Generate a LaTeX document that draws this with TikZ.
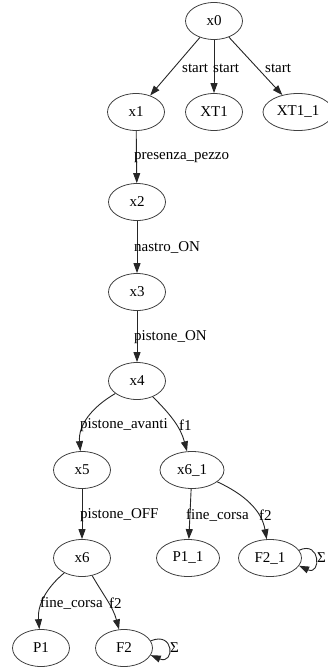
\documentclass[tikz,border=0pt]{standalone}
\usepackage{fontspec}
\setmainfont{Liberation Serif}
\usetikzlibrary{shapes.geometric,arrows.meta}

\begin{document}
\begin{tikzpicture}[x=1pt,y=1pt,
    state/.style={ellipse,draw=black!75,line width=0.8pt,minimum width=57pt,minimum height=37pt,inner sep=1pt,font=\fontsize{15}{17}\selectfont},
    lbl/.style={inner sep=0pt,anchor=west,font=\fontsize{15}{17}\selectfont},
    tr/.style={draw=black!85,line width=0.9pt,-{Triangle[length=10pt,width=7pt]}}]
  \useasboundingbox (0,0) rectangle (327,-669);

  % states
  \node[state] (x0) at (214,-21) {x0};
  \node[state] (x1) at (136,-112) {x1};
  \node[state] (XT1) at (214,-112) {XT1};
  \node[state,minimum width=70pt] (XT1_1) at (298,-112) {XT1\_1};
  \node[state] (x2) at (137,-202) {x2};
  \node[state] (x3) at (137,-292) {x3};
  \node[state] (x4) at (137,-381) {x4};
  \node[state] (x5) at (82,-470) {x5};
  \node[state,minimum width=64pt] (x6_1) at (192,-470) {x6\_1};
  \node[state] (x6) at (82,-558) {x6};
  \node[state,minimum width=63pt] (P1_1) at (188,-558) {P1\_1};
  \node[state,minimum width=63pt] (F2_1) at (270,-558) {F2\_1};
  \node[state] (P1) at (41,-648) {P1};
  \node[state] (F2) at (124,-648) {F2};

  % transitions
  \draw[tr] (x0) -- (x1);
  \draw[tr] (x0) -- (XT1);
  \draw[tr] (x0) -- (XT1_1);
  \draw[tr] (x1) -- (x2);
  \draw[tr] (x2) -- (x3);
  \draw[tr] (x3) -- (x4);
  \draw[tr] (x4) to[out=-150,in=95] (x5);
  \draw[tr] (x4) to[out=-45,in=105] (x6_1);
  \draw[tr] (x5) -- (x6);
  \draw[tr] (x6_1) -- (P1_1);
  \draw[tr] (x6_1) to[out=-25,in=100] (F2_1);
  \draw[tr] (x6) to[out=-140,in=95] (P1);
  \draw[tr] (x6) to[out=-60,in=105] (F2);
  \draw[tr] (F2.15) .. controls +(24,10) and +(24,-10) .. (F2.-15);
  \draw[tr] (F2_1.15) .. controls +(22,10) and +(22,-10) .. (F2_1.-15);

  % labels
  \node[lbl] (s1) at (182,-68) {start};
  \node[lbl] (s2) at (213,-68) {start};
  \node[lbl] (s3) at (265,-68) {start};
  \node[lbl] (pp) at (134,-158) {presenza\_pezzo};
  \node[lbl] (non) at (134,-247) {nastro\_ON};
  \node[lbl] (pon) at (134,-337) {pistone\_ON};
  \node[lbl] (pav) at (80,-425) {pistone\_avanti};
  \node[lbl] (f1) at (179,-425) {f1};
  \node[lbl] (poff) at (80,-515) {pistone\_OFF};
  \node[lbl] (fc1) at (186,-515) {fine\_corsa};
  \node[lbl] (f2a) at (259,-515) {f2};
  \node[lbl] (fc2) at (40,-603) {fine\_corsa};
  \node[lbl] (f2b) at (109,-603) {f2};
  \node[lbl] (sg1) at (170,-648) {Σ};
  \node[lbl] (sg2) at (317,-558) {Σ};
\end{tikzpicture}
\end{document}
